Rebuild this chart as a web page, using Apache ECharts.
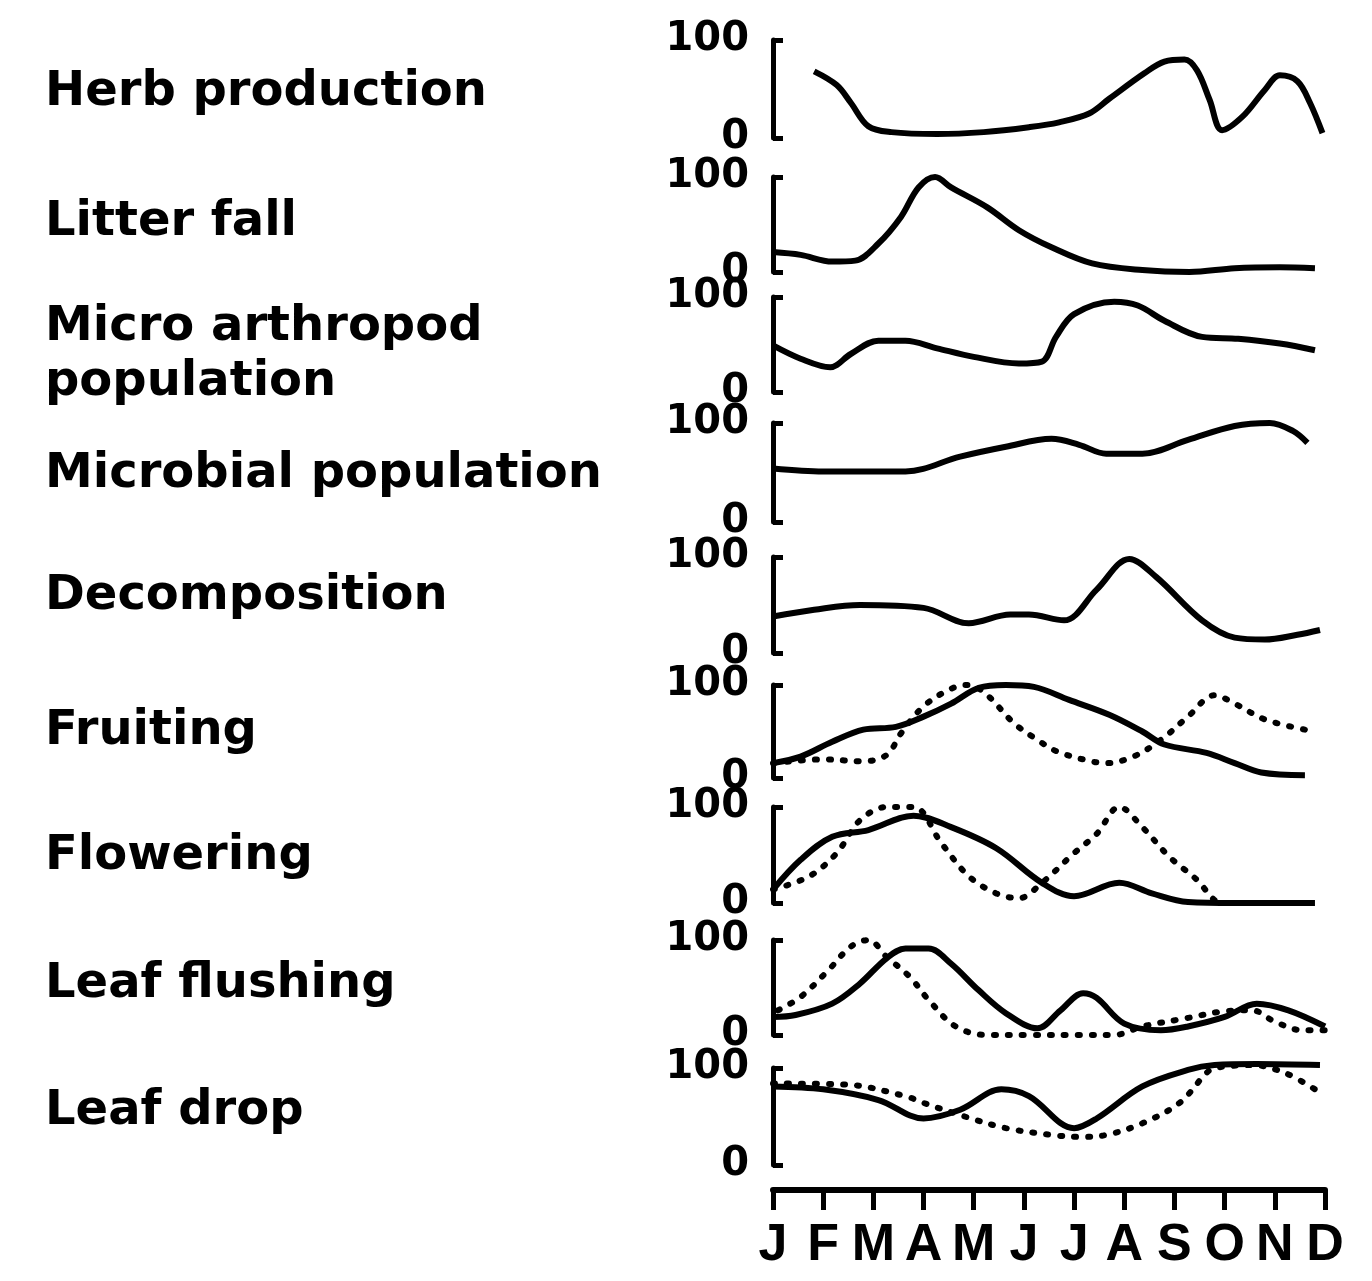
<!DOCTYPE html>
<html>
<head>
<meta charset="utf-8">
<script src="https://cdn.jsdelivr.net/npm/echarts@6/dist/echarts.min.js"></script>
<style>
  html, body { margin: 0; padding: 0; background: #fff; }
  #chart { width: 1372px; height: 1281px; }
</style>
</head>
<body>
<div id="chart"></div>
<script>
// month ticks
const months = ['J', 'F', 'M', 'A', 'M', 'J', 'J', 'A', 'S', 'O', 'N', 'D'];
const yTicks = [0, 100];

// panel names (left column)
const panelNames = [
    'Herb production',
    'Litter fall',
    'Micro arthropod\npopulation',
    'Microbial population',
    'Decomposition',
    'Fruiting',
    'Flowering',
    'Leaf flushing',
    'Leaf drop'
];

// [month index, % of max]
const herb = [[0.82,68],[1.27,54],[1.55,36],[1.9,12],[2.36,6],[3.27,4],[4.2,6],[5.1,11],[5.7,16],[6.3,25],[6.7,40],[7.4,66],[7.8,78],[8.2,80],[8.45,69],[8.7,39],[8.95,8],[9.36,22],[9.8,49],[10.1,64],[10.45,58],[10.7,36],[10.95,5]];
const litter = [[0,21],[0.55,18],[1.18,11],[1.64,12],[2.1,30],[2.55,58],[2.9,89],[3.23,100],[3.55,89],[4.27,68],[4.9,44],[5.55,26],[6.36,9],[7.36,2],[8.3,0],[9.2,4],[10.1,5],[10.8,4]];
const microArthropod = [[0,49],[0.55,35],[1.14,26],[1.55,40],[2.1,54],[2.64,54],[3.27,46],[4.0,37],[4.9,30],[5.36,32],[5.64,58],[6.0,82],[6.8,95],[7.27,91],[7.8,75],[8.55,58],[9.27,56],[10.1,51],[10.8,44]];
const microbial = [[0,54],[1.0,51],[2.64,51],[3.73,66],[4.64,76],[5.55,84],[6.1,78],[6.64,69],[7.36,69],[8.27,83],[9.2,97],[9.9,100],[10.36,92],[10.65,80]];
const decomposition = [[0,38],[0.82,45],[1.73,50],[3.0,47],[3.9,31],[4.73,40],[5.1,40],[5.8,34],[6.45,66],[7.1,98],[7.64,79],[8.55,34],[9.2,16],[9.8,14],[10.45,19],[10.9,24]];
const fruitingSolid = [[0,16],[0.55,23],[1.18,39],[1.8,52],[2.45,55],[3.0,66],[3.55,80],[4.1,97],[4.64,100],[5.2,98],[5.9,84],[6.7,68],[7.36,50],[7.8,36],[8.64,27],[9.2,16],[9.73,6],[10.6,3]];
const fruitingDotted = [[0,16],[1.0,20],[1.8,18],[2.27,25],[2.55,48],[3.0,77],[3.55,96],[3.9,100],[4.27,89],[4.8,59],[5.27,41],[5.64,29],[6.18,20],[6.64,16],[7.18,23],[7.73,41],[8.27,66],[8.8,89],[9.2,80],[9.8,63],[10.6,52]];
const floweringSolid = [[0,14],[0.55,45],[1.18,69],[1.9,76],[2.8,91],[3.55,79],[4.45,57],[5.36,21],[6.0,7],[6.9,21],[7.55,10],[8.27,1],[9.2,0],[10.8,0]];
const floweringDotted = [[0,14],[0.73,28],[1.27,52],[1.73,86],[2.27,100],[2.8,100],[3.36,62],[3.9,28],[4.45,10],[4.9,5],[5.36,21],[6.0,52],[6.45,72],[6.9,100],[7.36,79],[7.9,48],[8.45,24],[8.8,3],[9.0,0]];
const flushingSolid = [[0,19],[0.45,21],[1.18,33],[1.73,54],[2.27,81],[2.64,91],[3.1,91],[3.55,75],[4.1,47],[4.64,23],[5.27,7],[5.73,26],[6.18,44],[6.45,39],[7.0,12],[7.73,5],[8.27,9],[9.0,19],[9.64,33],[10.27,26],[11.0,9]];
const flushingDotted = [[0.1,26],[0.55,40],[1.1,68],[1.55,93],[1.9,100],[2.27,82],[2.73,61],[3.1,37],[3.64,9],[4.27,0],[5.1,0],[6.1,0],[6.8,0],[7.36,9],[8.27,18],[9.0,25],[9.55,26],[10.0,14],[10.55,5],[11,5]];
const dropSolid = [[0,81],[1.0,78],[2.1,67],[3.0,48],[3.73,57],[4.55,78],[5.1,71],[6.0,38],[6.45,48],[7.36,81],[8.27,98],[8.8,103],[9.64,104],[10.9,103]];
const dropDotted = [[0,84],[1.45,83],[2.64,71],[3.0,64],[3.82,50],[4.64,38],[5.55,31],[6.1,29],[6.64,31],[7.36,43],[8.1,64],[8.64,95],[8.8,100],[9.55,103],[10.2,95],[10.8,78]];

const solidSeries = [herb, litter, microArthropod, microbial, decomposition, fruitingSolid, floweringSolid, flushingSolid, dropSolid];
const dottedSeries = [null, null, null, null, null, fruitingDotted, floweringDotted, flushingDotted, dropDotted];

// layout: pixel y of the 100 level and panel height
const panelTops = [40, 177, 297, 423, 557, 685, 807, 940, 1068];
const panelHeights = [98, 95, 95, 99, 96, 93, 96, 95, 97];
const labelCenters = [98, 228, 333, 480, 602, 737, 862, 990, 1117];

const FONT = '"DejaVu Sans", sans-serif';

let chart = echarts.init(document.getElementById('chart'));

let grids = [], xAxes = [], yAxes = [], series = [], texts = [];

panelNames.forEach((name, i) => {
    grids.push({left: 773, right: 47, top: panelTops[i], height: panelHeights[i]});
    let last = i === panelNames.length - 1;
    xAxes.push({
        gridIndex: i, type: 'value', min: 0, max: 11, interval: 1,
        show: last,
        position: 'bottom',
        offset: 25,
        axisLine: {show: true, onZero: false, lineStyle: {color: '#000', width: 6}},
        axisTick: {show: true, length: 20, lineStyle: {color: '#000', width: 5}},
        axisLabel: {
            show: true, color: '#000', fontSize: 52, fontWeight: 'bold',
            fontFamily: '"Liberation Sans", Arial, sans-serif',
            margin: 30,
            formatter: v => months[v]
        },
        splitLine: {show: false}
    });
    yAxes.push({
        gridIndex: i, type: 'value', min: yTicks[0], max: yTicks[1], interval: 100,
        axisLine: {show: true, lineStyle: {color: '#000', width: 5}},
        axisTick: {show: true, inside: true, length: 10, lineStyle: {color: '#000', width: 5}},
        axisLabel: {color: '#000', fontSize: 40, fontWeight: 'bold', fontFamily: FONT, margin: 24},
        splitLine: {show: false}
    });
    series.push({
        type: 'line', xAxisIndex: i, yAxisIndex: i, data: solidSeries[i],
        smooth: 0.35, showSymbol: false, clip: false,
        lineStyle: {color: '#000', width: 6}
    });
    if (dottedSeries[i]) {
        series.push({
            type: 'line', xAxisIndex: i, yAxisIndex: i, data: dottedSeries[i],
            smooth: 0.35, showSymbol: false, clip: false,
            lineStyle: {color: '#000', width: 6, type: [2, 12], cap: 'round'}
        });
    }
    let lines = name.split('\n');
    lines.forEach((line, k) => {
        texts.push({
            type: 'text', left: 45, top: labelCenters[i] + k * 55 - 29,
            style: {text: line, fill: '#000', font: 'bold 48px ' + FONT}
        });
    });
});

chart.setOption({
    animation: false,
    backgroundColor: '#fff',
    grid: grids,
    xAxis: xAxes,
    yAxis: yAxes,
    series: series,
    graphic: {elements: texts}
});
</script>
</body>
</html>
